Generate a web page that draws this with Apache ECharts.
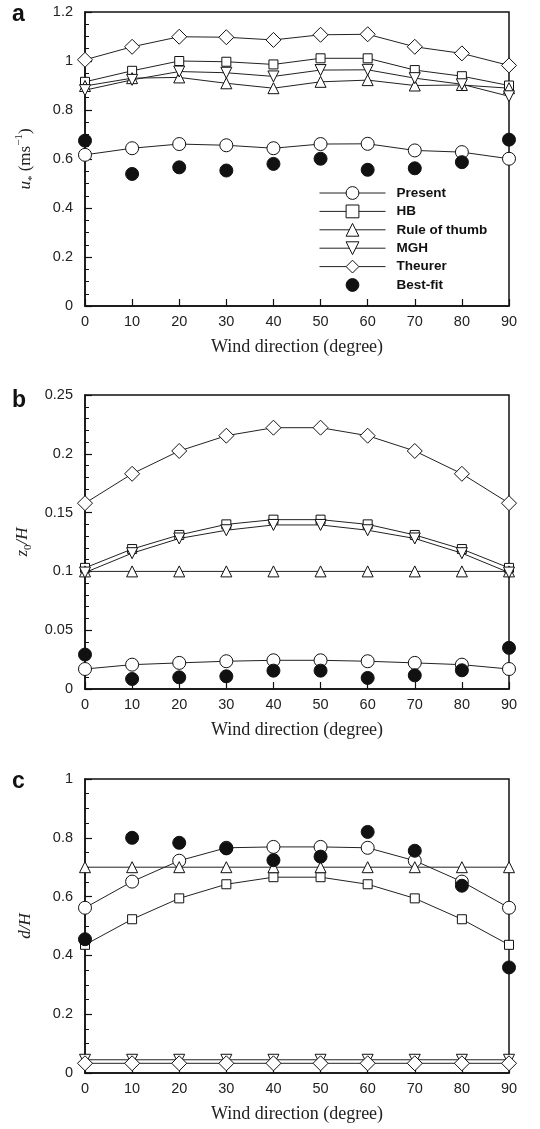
<!DOCTYPE html>
<html><head><meta charset="utf-8">
<script src="https://cdn.jsdelivr.net/npm/echarts@6/dist/echarts.min.js"></script>
<style>html,body{margin:0;padding:0;background:#fff}#c{width:540px;height:1129px}</style>
</head><body><div id="c"></div><script>
// ---- data ----
const directions = [0, 10, 20, 30, 40, 50, 60, 70, 80, 90];
const seriesNames = ['Present', 'HB', 'Rule of thumb', 'MGH', 'Theurer', 'Best-fit'];
const xTickLabels = ['0','10','20','30','40','50','60','70','80','90'];

// Panel a: friction velocity u* (m/s)
const uPresent = [0.617, 0.644, 0.661, 0.656, 0.644, 0.661, 0.662, 0.635, 0.628, 0.601];
const uHB      = [0.915, 0.960, 1.000, 0.997, 0.986, 1.011, 1.011, 0.963, 0.938, 0.900];
const uRule    = [0.898, 0.930, 0.933, 0.909, 0.889, 0.915, 0.922, 0.900, 0.902, 0.889];
const uMGH     = [0.881, 0.923, 0.957, 0.952, 0.937, 0.963, 0.964, 0.930, 0.905, 0.856];
const uTheurer = [1.005, 1.058, 1.099, 1.097, 1.086, 1.107, 1.109, 1.058, 1.031, 0.982];
const uBest    = [0.675, 0.539, 0.566, 0.553, 0.580, 0.601, 0.556, 0.562, 0.587, 0.679];

// Panel b: roughness length z0/H
const zPresent = [0.0170, 0.0207, 0.0222, 0.0236, 0.0244, 0.0244, 0.0236, 0.0222, 0.0207, 0.0170];
const zHB      = [0.103, 0.119, 0.131, 0.140, 0.144, 0.144, 0.140, 0.131, 0.119, 0.103];
const zRule    = [0.100, 0.100, 0.100, 0.100, 0.100, 0.100, 0.100, 0.100, 0.100, 0.100];
const zMGH     = [0.099, 0.1155, 0.128, 0.135, 0.1395, 0.1395, 0.135, 0.128, 0.1155, 0.099];
const zTheurer = [0.158, 0.183, 0.2024, 0.2154, 0.2222, 0.2222, 0.2154, 0.2024, 0.183, 0.158];
const zBest    = [0.0293, 0.0085, 0.0099, 0.0108, 0.0156, 0.0156, 0.0094, 0.0116, 0.0159, 0.0350];

// Panel c: displacement height d/H
const dPresent = [0.562, 0.651, 0.722, 0.766, 0.769, 0.769, 0.766, 0.722, 0.651, 0.562];
const dHB      = [0.436, 0.523, 0.594, 0.642, 0.666, 0.666, 0.642, 0.594, 0.523, 0.436];
const dRule    = [0.700, 0.700, 0.700, 0.700, 0.700, 0.700, 0.700, 0.700, 0.700, 0.700];
const dMGH     = [0.045, 0.045, 0.045, 0.045, 0.045, 0.045, 0.045, 0.045, 0.045, 0.045];
const dTheurer = [0.033, 0.033, 0.033, 0.033, 0.033, 0.033, 0.033, 0.033, 0.033, 0.033];
const dBest    = [0.455, 0.800, 0.783, 0.764, 0.724, 0.736, 0.820, 0.756, 0.637, 0.359];

const panelData = [
  [uPresent, uHB, uRule, uMGH, uTheurer, uBest],
  [zPresent, zHB, zRule, zMGH, zTheurer, zBest],
  [dPresent, dHB, dRule, dMGH, dTheurer, dBest]
];

// ---- styling ----
const INK = '#111';
const symbols = [
  {symbol: 'circle', size: 13, rotate: 0, fill: '#fff'},
  {symbol: 'rect', size: 9, rotate: 0, fill: '#fff'},
  {symbol: 'triangle', size: 11, rotate: 0, fill: '#fff'},
  {symbol: 'triangle', size: 11, rotate: 180, fill: '#fff'},
  {symbol: 'diamond', size: 15, rotate: 0, fill: '#fff'},
  {symbol: 'circle', size: 13, rotate: 0, fill: INK}
];
const gridTops = [12, 395, 779];
const yCfg = [
  {max: 1.2, interval: 0.2, minor: 4},
  {max: 0.25, interval: 0.05, minor: 5},
  {max: 1, interval: 0.2, minor: 4}
];
const yNames = [
  '{i|u}{s|*} (ms{p|−1})',
  '{i|z}{s|0}{i|/H}',
  '{i|d/H}'
];
const yNameGaps = [47, 48, 48];

const serifName = {
  fontFamily: 'Liberation Serif', fontSize: 17, color: '#222', lineHeight: 22,
  rich: {
    i: {fontFamily: 'Liberation Serif', fontStyle: 'italic', fontSize: 17, color: '#222'},
    s: {fontFamily: 'Liberation Serif', fontSize: 11, color: '#222', verticalAlign: 'bottom', lineHeight: 10},
    p: {fontFamily: 'Liberation Serif', fontSize: 11, color: '#222', verticalAlign: 'top', lineHeight: 24}
  }
};

const grids = [], xAxes = [], yAxes = [], series = [], titles = [];
const letters = ['a', 'b', 'c'];
const letterTops = [3, 389, 770];
for (let p = 0; p < 3; p++) {
  grids.push({left: 85, top: gridTops[p], width: 424, height: 294, show: true,
    borderColor: INK, borderWidth: 1.5, backgroundColor: 'transparent', containLabel: false});
  xAxes.push({
    type: 'value', gridIndex: p, min: 0, max: 90, interval: 10,
    name: 'Wind direction (degree)', nameLocation: 'middle', nameGap: 32,
    nameTextStyle: {fontFamily: 'Liberation Serif', fontSize: 18, color: '#222'},
    axisLine: {lineStyle: {color: INK, width: 1.5}},
    axisTick: {inside: true, length: 7, lineStyle: {color: INK, width: 1.2}},
    axisLabel: {fontFamily: 'Liberation Sans', fontSize: 14.5, color: '#222', margin: 8,
      formatter: v => xTickLabels[directions.indexOf(v)] ?? String(v)},
    splitLine: {show: false}
  });
  yAxes.push({
    type: 'value', gridIndex: p, min: 0, max: yCfg[p].max, interval: yCfg[p].interval,
    name: yNames[p], nameLocation: 'middle', nameRotate: 90, nameGap: yNameGaps[p],
    nameTextStyle: serifName,
    axisLine: {lineStyle: {color: INK, width: 1.5}},
    axisTick: {inside: true, length: 7, lineStyle: {color: INK, width: 1.2}},
    minorTick: {show: true, splitNumber: yCfg[p].minor, length: 4, lineStyle: {color: INK, width: 1}},
    axisLabel: {fontFamily: 'Liberation Sans', fontSize: 14.5, color: '#222', margin: 12},
    splitLine: {show: false}, minorSplitLine: {show: false}
  });
  titles.push({text: letters[p], left: 12, top: letterTops[p], padding: 0,
    textStyle: {fontFamily: 'Liberation Sans', fontWeight: 'bold', fontSize: 23, color: INK}});
  for (let s = 0; s < 6; s++) {
    const vals = panelData[p][s];
    const isBest = s === 5;
    series.push({
      name: seriesNames[s], type: 'line', xAxisIndex: p, yAxisIndex: p,
      data: directions.map((d, i) => [d, vals[i]]),
      symbol: symbols[s].symbol, symbolSize: symbols[s].size, symbolRotate: symbols[s].rotate,
      showAllSymbol: true, animation: false, z: isBest ? 5 : 3,
      color: INK,
      itemStyle: {color: symbols[s].fill, borderColor: INK, borderWidth: 1},
      lineStyle: isBest ? {color: INK, width: 1, opacity: 0} : {color: '#222', width: 1}
    });
  }
}

const chart = echarts.init(document.getElementById('c'), null, {renderer: 'canvas'});
chart.setOption({
  backgroundColor: '#fff',
  animation: false,
  title: titles,
  grid: grids, xAxis: xAxes, yAxis: yAxes, series: series,
  legend: {
    data: seriesNames, orient: 'vertical', left: 319, top: 186,
    itemWidth: 66, itemHeight: 16, itemGap: 4.4, padding: 0, selectedMode: false,
    itemStyle: {borderWidth: 1},
    lineStyle: {width: 1},
    textStyle: {fontFamily: 'Liberation Sans', fontWeight: 'bold', fontSize: 13.5, color: INK, padding: [0, 0, 0, 6]}
  }
});
</script></body></html>
